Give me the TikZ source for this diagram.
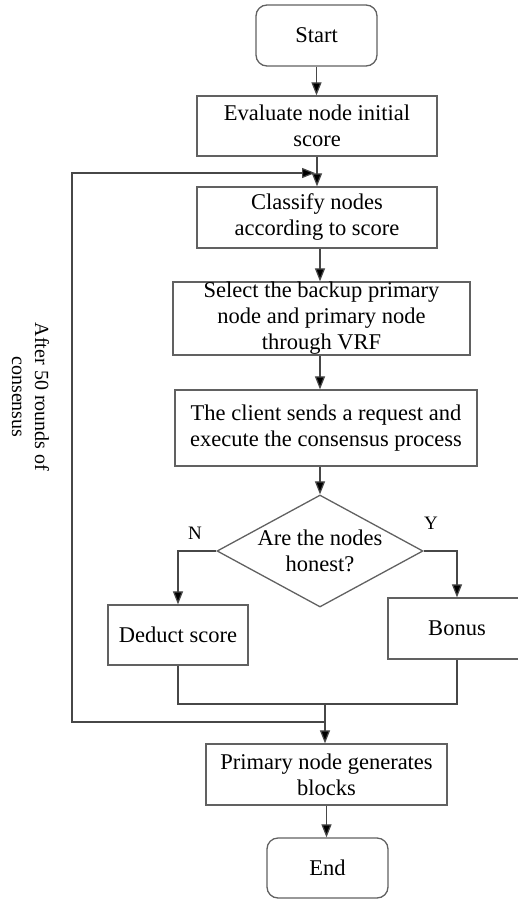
\documentclass[tikz,border=0pt]{standalone}
\usepackage{fontspec}
\setmainfont{Liberation Serif}
\usetikzlibrary{arrows.meta,shapes.geometric}
\begin{document}
\begin{tikzpicture}[x=1pt,y=-1pt,
  font=\fontsize{22.5}{26}\selectfont,
  box/.style={draw=black!62, line width=1.3pt, align=center, inner sep=0pt, text=black},
  term/.style={box, rounded corners=11pt},
  flow/.style={draw=black!72, line width=1.2pt},
  arr/.style={flow, -{Triangle[length=13pt,width=10pt,fill=black]}},
  lbl/.style={font=\fontsize{19}{21}\selectfont, inner sep=0pt},
]
\useasboundingbox (0,0) rectangle (517,899);

% process steps
\node[term, minimum width=121pt, minimum height=61pt] (start) at (316.5,35.5) {Start};
\node[box, minimum width=240pt, minimum height=60pt] (eval) at (317,126) {Evaluate node initial\\score};
\node[box, minimum width=240pt, minimum height=61pt] (classify) at (317,217.5) {Classify nodes\\according to score};
\node[box, minimum width=297pt, minimum height=73pt] (select) at (321.5,318.5) {Select the backup primary\\node and primary node\\through VRF};
\node[box, minimum width=302pt, minimum height=76pt] (client) at (326,428) {The client sends a request and\\execute the consensus process};
\node[box, shape=diamond, minimum width=206pt, minimum height=112pt] (decide) at (320,551) {};
\node[align=center, inner sep=0pt] (decidetext) at (decide.center) {Are the nodes\\honest?};
\node[box, minimum width=140pt, minimum height=60pt] (deduct) at (178,635) {Deduct score};
\node[box, minimum width=138pt, minimum height=61pt] (bonus) at (457,628.5) {Bonus};
\node[box, minimum width=241pt, minimum height=61pt] (primary) at (326.5,774.5) {Primary node generates\\blocks};
\node[term, minimum width=121pt, minimum height=60pt] (end) at (327.5,868) {End};

% branch labels and loop note
\node[lbl] (nlabel) at (195,533) {N};
\node[lbl] (ylabel) at (431,523) {Y};
\node[rotate=-90, align=center, inner sep=0pt, font=\fontsize{20}{23}\selectfont] (rounds) at (30.5,397) {After 50 rounds of\\consensus};

% helper points
\coordinate (mergeline) at (325,704);
\coordinate (joinbottom) at (325,722);
\coordinate (loopbottom) at (72,722);
\coordinate (looptop) at (72,173);
\coordinate (jointop) at (315,173);

% main flow
\draw[arr] (start.south) -- (start.south |- eval.north);
\draw[arr] (eval.south) -- (eval.south |- classify.north);
\draw[arr] (decide.north |- classify.south) -- (decide.north |- select.north);
\draw[arr] (decide.north |- select.south) -- (decide.north |- client.north);
\draw[arr] (decide.north |- client.south) -- (decide.north);
\draw[arr] (decide.west) -| (deduct.north);
\draw[arr] (decide.east) -| (bonus.north);
\draw[flow] (deduct.south) -- (deduct.south |- mergeline) -- (bonus.south |- mergeline) -- (bonus.south);
\draw[arr] (mergeline) -- (mergeline |- primary.north);
\draw[arr] (primary.south) -- (primary.south |- end.north);

% feedback loop
\draw[arr] (joinbottom) -- (loopbottom) -- (looptop) -- (jointop);
\end{tikzpicture}
\end{document}
